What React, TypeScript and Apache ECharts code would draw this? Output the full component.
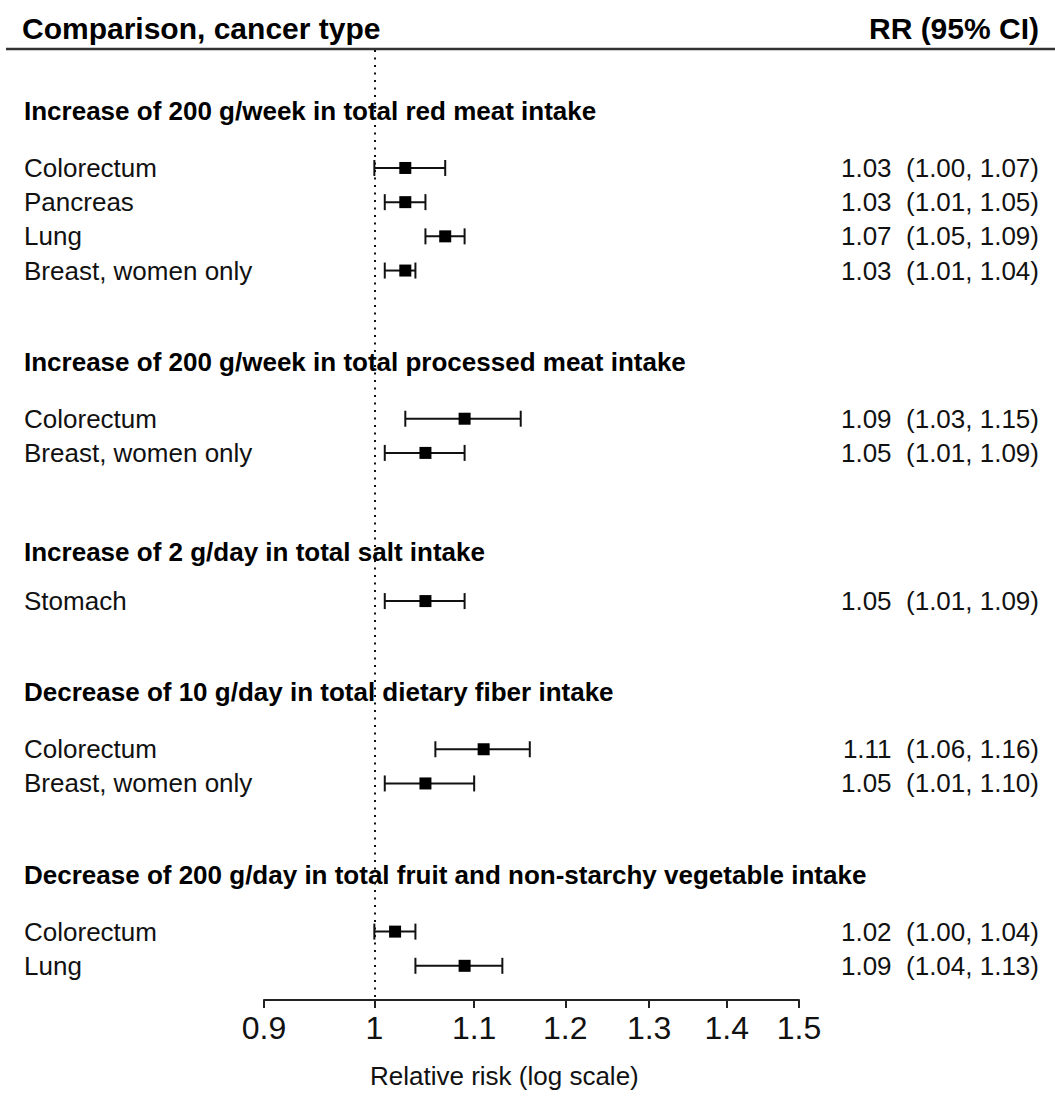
import React, { useEffect, useRef } from "react";
import * as echarts from "echarts";

// Exposure comparisons (one block each)
const comparisons = [
  "Increase of 200 g/week in total red meat intake",
  "Increase of 200 g/week in total processed meat intake",
  "Increase of 2 g/day in total salt intake",
  "Decrease of 10 g/day in total dietary fiber intake",
  "Decrease of 200 g/day in total fruit and non-starchy vegetable intake",
];

// Which comparison each result row belongs to
const rowComparison = [0, 0, 0, 0, 1, 1, 2, 3, 3, 4, 4];

const cancerTypes = [
  "Colorectum",
  "Pancreas",
  "Lung",
  "Breast, women only",
  "Colorectum",
  "Breast, women only",
  "Stomach",
  "Colorectum",
  "Breast, women only",
  "Colorectum",
  "Lung",
];

// Relative risks and 95% confidence limits
const rrEstimate = [1.03, 1.03, 1.07, 1.03, 1.09, 1.05, 1.05, 1.11, 1.05, 1.02, 1.09];
const rrLower = [1.0, 1.01, 1.05, 1.01, 1.03, 1.01, 1.01, 1.06, 1.01, 1.0, 1.04];
const rrUpper = [1.07, 1.05, 1.09, 1.04, 1.15, 1.09, 1.09, 1.16, 1.1, 1.04, 1.13];

const xTickValues = [0.9, 1, 1.1, 1.2, 1.3, 1.4, 1.5];

const FONT = "'Liberation Sans', Arial, Helvetica, sans-serif";
const INK = "#111";

// Vertical layout in row units
const TOP_PAD = 5.35;
const HEADER_GAP = [5, 5, 4.3, 5, 5];
const ROW_STEP = 3;
const BLOCK_STEP = 13; // last row of a block to first row of the next
const BOTTOM_PAD = 3;

function buildSlots() {
  const headerSlots: number[] = [];
  const rowSlots: number[] = [];
  let pos = TOP_PAD + HEADER_GAP[0];
  comparisons.forEach((_, g) => {
    if (g > 0) pos += BLOCK_STEP;
    headerSlots.push(pos - HEADER_GAP[g]);
    let first = true;
    rowComparison.forEach((cg, i) => {
      if (cg !== g) return;
      if (!first) pos += ROW_STEP;
      rowSlots[i] = pos;
      first = false;
    });
  });
  return { headerSlots, rowSlots, yMax: pos + BOTTOM_PAD };
}

export default function App() {
  const ref = useRef<HTMLDivElement>(null);

  useEffect(() => {
    if (!ref.current) return;
    const chart = echarts.init(ref.current, undefined, { renderer: "svg" });
    const { headerSlots, rowSlots, yMax } = buildSlots();

    const rowData = cancerTypes.map((_, i) => [
      Math.log(rrLower[i]),
      Math.log(rrUpper[i]),
      Math.log(rrEstimate[i]),
      rowSlots[i],
      i,
    ]);
    const headerData = comparisons.map((_, g) => [Math.log(0.9), headerSlots[g], g]);

    const labelX = 24;
    const valueRightX = 1039;

    chart.setOption({
      animation: false,
      backgroundColor: "#fff",
      grid: { left: 264, right: 256, top: 50, bottom: 97, containLabel: false },
      xAxis: {
        type: "value",
        min: Math.log(0.9),
        max: Math.log(1.5),
        axisLine: { show: true, onZero: false, lineStyle: { color: "#222", width: 2 } },
        axisTick: {
          show: true,
          length: 8,
          customValues: xTickValues.map(Math.log),
          lineStyle: { color: "#222", width: 2 },
        },
        axisLabel: {
          customValues: xTickValues.map(Math.log),
          formatter: (v: number) => String(Math.round(Math.exp(v) * 10) / 10),
          fontSize: 32,
          fontFamily: FONT,
          color: INK,
          margin: 12,
        },
        splitLine: { show: false },
      },
      yAxis: {
        type: "value",
        inverse: true,
        min: 0,
        max: yMax,
        show: false,
      },
      graphic: [
        {
          type: "text",
          x: 22,
          y: 28,
          style: {
            text: "Comparison, cancer type",
            font: `bold 30px ${FONT}`,
            fill: "#000",
            align: "left",
            verticalAlign: "middle",
          },
        },
        {
          type: "text",
          x: valueRightX,
          y: 28,
          style: {
            text: "RR (95% CI)",
            font: `bold 30px ${FONT}`,
            fill: "#000",
            align: "right",
            verticalAlign: "middle",
          },
        },
        {
          type: "line",
          shape: { x1: 6, y1: 49, x2: 1055, y2: 49 },
          style: { stroke: "#333", lineWidth: 2.5 },
        },
        {
          type: "text",
          x: 370,
          y: 1076,
          style: {
            text: "Relative risk (log scale)",
            font: `26px ${FONT}`,
            fill: INK,
            align: "left",
            verticalAlign: "middle",
          },
        },
      ],
      series: [
        {
          type: "custom",
          name: "headers",
          data: headerData,
          encode: { x: 0, y: 1 },
          silent: true,
          renderItem: (_params: any, api: any) => {
            const p = api.coord([api.value(0), api.value(1)]);
            const g = api.value(2) as number;
            return {
              type: "text",
              x: labelX,
              y: p[1],
              style: {
                text: comparisons[g],
                font: `bold 26px ${FONT}`,
                fill: "#000",
                align: "left",
                verticalAlign: "middle",
              },
            };
          },
        },
        {
          type: "custom",
          name: "estimates",
          data: rowData,
          encode: { x: [0, 1, 2], y: 3 },
          silent: true,
          renderItem: (_params: any, api: any) => {
            const slot = api.value(3);
            const i = api.value(4) as number;
            const lo = api.coord([api.value(0), slot]);
            const hi = api.coord([api.value(1), slot]);
            const est = api.coord([api.value(2), slot]);
            const box = 12;
            const cap = 8;
            const stroke = { stroke: INK, lineWidth: 2 };
            return {
              type: "group",
              children: [
                { type: "line", shape: { x1: lo[0], y1: lo[1], x2: hi[0], y2: hi[1] }, style: stroke },
                { type: "line", shape: { x1: lo[0], y1: lo[1] - cap, x2: lo[0], y2: lo[1] + cap }, style: stroke },
                { type: "line", shape: { x1: hi[0], y1: hi[1] - cap, x2: hi[0], y2: hi[1] + cap }, style: stroke },
                {
                  type: "rect",
                  shape: { x: est[0] - box / 2, y: est[1] - box / 2, width: box, height: box },
                  style: { fill: "#000" },
                },
                {
                  type: "text",
                  x: labelX,
                  y: est[1],
                  style: {
                    text: cancerTypes[i],
                    font: `26px ${FONT}`,
                    fill: INK,
                    align: "left",
                    verticalAlign: "middle",
                  },
                },
                {
                  type: "text",
                  x: valueRightX,
                  y: est[1],
                  style: {
                    text: `${rrEstimate[i].toFixed(2)}\u00a0\u00a0(${rrLower[i].toFixed(2)}, ${rrUpper[i].toFixed(2)})`,
                    font: `26px ${FONT}`,
                    fill: INK,
                    align: "right",
                    verticalAlign: "middle",
                  },
                },
              ],
            };
          },
          markLine: {
            silent: true,
            symbol: "none",
            label: { show: false },
            lineStyle: { color: "#111", width: 2, type: [2, 5.5] },
            data: [{ xAxis: 0 }],
          },
        },
      ],
    });

    return () => chart.dispose();
  }, []);

  return (
    <div
      ref={ref}
      style={{ position: "absolute", left: 0, top: 0, width: 1055, height: 1097, background: "#fff" }}
    />
  );
}
